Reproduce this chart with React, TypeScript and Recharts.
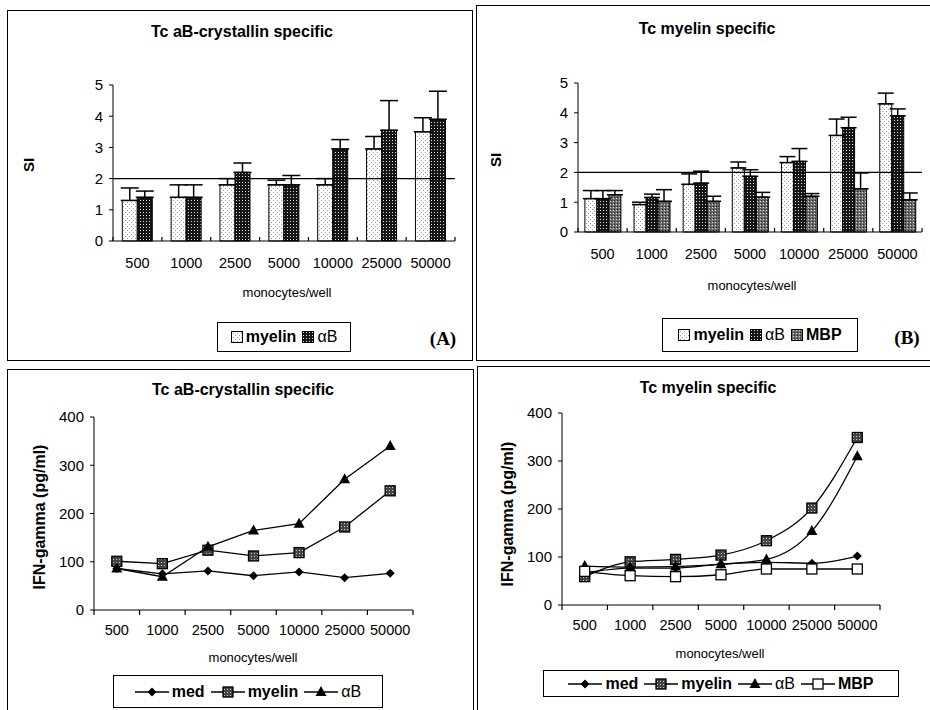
import React from "react";
import { BarChart, Bar, LineChart, Line, XAxis, YAxis, ReferenceLine, ErrorBar } from "recharts";

const doses = ["500", "1000", "2500", "5000", "10000", "25000", "50000"];
const siTicks = [0, 1, 2, 3, 4, 5];
const ifnTicks = [0, 100, 200, 300, 400];

// (A) Tc aB-crystallin specific, SI
const aMyelin = [1.3, 1.4, 1.8, 1.8, 1.8, 2.95, 3.5];
const aMyelinErr = [0.4, 0.4, 0.2, 0.15, 0.2, 0.4, 0.45];
const aAb = [1.4, 1.4, 2.2, 1.8, 2.95, 3.55, 3.9];
const aAbErr = [0.2, 0.4, 0.3, 0.3, 0.3, 0.95, 0.9];

// (B) Tc myelin specific, SI
const bMyelin = [1.12, 0.92, 1.6, 2.15, 2.33, 3.24, 4.3];
const bMyelinErr = [0.27, 0.08, 0.35, 0.2, 0.2, 0.55, 0.36];
const bAb = [1.12, 1.16, 1.64, 1.87, 2.37, 3.5, 3.9];
const bAbErr = [0.27, 0.11, 0.4, 0.22, 0.43, 0.35, 0.23];
const bMbp = [1.25, 1.03, 1.03, 1.17, 1.2, 1.45, 1.08];
const bMbpErr = [0.14, 0.39, 0.17, 0.16, 0.09, 0.53, 0.23];

// (C) Tc aB-crystallin specific, IFN-gamma
const cMed = [86, 75, 81, 71, 79, 67, 76];
const cMyelin = [101, 96, 124, 112, 119, 172, 247];
const cAb = [86, 69, 131, 165, 179, 271, 340];

// (D) Tc myelin specific, IFN-gamma
const dMed = [67, 77, 77, 85, 89, 87, 102];
const dMyelin = [59, 90, 95, 104, 134, 202, 349];
const dAb = [81, 79, 80, 85, 95, 154, 310];
const dMbp = [70, 61, 59, 63, 75, 75, 75];

const dataA = doses.map((dose, i) => ({
  dose,
  myelin: aMyelin[i],
  myelinErr: [0, aMyelinErr[i]],
  ab: aAb[i],
  abErr: [0, aAbErr[i]],
}));
const dataB = doses.map((dose, i) => ({
  dose,
  myelin: bMyelin[i],
  myelinErr: [0, bMyelinErr[i]],
  ab: bAb[i],
  abErr: [0, bAbErr[i]],
  mbp: bMbp[i],
  mbpErr: [0, bMbpErr[i]],
}));
const dataC = doses.map((dose, i) => ({ dose, med: cMed[i], myelin: cMyelin[i], ab: cAb[i] }));
const dataD = doses.map((dose, i) => ({ dose, med: dMed[i], myelin: dMyelin[i], ab: dAb[i], mbp: dMbp[i] }));

const SANS = "'Liberation Sans', Arial, sans-serif";

// x tick: label at band centre + little mark on the band edges
function DoseTick(props: any) {
  const { x, y, payload, index, half, up, dy } = props;
  const t0 = up ? y - 4 : y;
  const t1 = up ? y : y + 5;
  return (
    <g>
      <line x1={x - half} x2={x - half} y1={t0} y2={t1} stroke="#000" strokeWidth={1.2} />
      {index === doses.length - 1 && (
        <line x1={x + half} x2={x + half} y1={t0} y2={t1} stroke="#000" strokeWidth={1.2} />
      )}
      <text x={x} y={y + dy} textAnchor="middle" fontSize={14.5} fontFamily={SANS} fill="#000">
        {payload.value}
      </text>
    </g>
  );
}

const Diamond = (p: any) => (
  <polygon
    key={p.index}
    points={`${p.cx},${p.cy - 4.5} ${p.cx + 4.5},${p.cy} ${p.cx},${p.cy + 4.5} ${p.cx - 4.5},${p.cy}`}
    fill="#000"
  />
);
const PatSquare = (p: any) => (
  <rect key={p.index} x={p.cx - 5} y={p.cy - 5} width={10} height={10} fill="url(#pSq)" stroke="#000" strokeWidth={1.3} />
);
const Triangle = (p: any) => (
  <polygon key={p.index} points={`${p.cx},${p.cy - 6} ${p.cx + 5.5},${p.cy + 4} ${p.cx - 5.5},${p.cy + 4}`} fill="#000" />
);
const OpenSquare = (p: any) => (
  <rect key={p.index} x={p.cx - 5} y={p.cy - 5} width={10} height={10} fill="#fff" stroke="#000" strokeWidth={1.3} />
);

function Txt({ x, y, children, size = 14, bold = false, rotate = false, serif = false }: any) {
  return (
    <div
      style={{
        position: "absolute",
        left: x,
        top: y,
        transform: `translate(-50%, -50%)${rotate ? " rotate(-90deg)" : ""}`,
        whiteSpace: "nowrap",
        fontSize: size,
        fontWeight: bold ? 700 : 400,
        fontFamily: serif ? "'Liberation Serif', serif" : SANS,
        lineHeight: 1,
      }}
    >
      {children}
    </div>
  );
}

function Box({ x, y, w, h }: any) {
  return (
    <div
      style={{ position: "absolute", left: x, top: y, width: w, height: h, border: "1.5px solid #000", boxSizing: "border-box" }}
    />
  );
}

function Swatch({ fill }: { fill: string }) {
  return (
    <svg width={12} height={12} style={{ marginRight: 3 }}>
      <rect x={0.5} y={0.5} width={11} height={11} fill={fill} stroke="#000" />
    </svg>
  );
}

function LineKey({ marker }: { marker: any }) {
  return (
    <svg width={34} height={14} style={{ marginRight: 3 }}>
      <line x1={0} x2={34} y1={7} y2={7} stroke="#000" strokeWidth={1.3} />
      {marker({ cx: 17, cy: 7, index: 0 })}
    </svg>
  );
}

function Legend({ x, y, w, h, children }: any) {
  return (
    <div
      style={{
        position: "absolute",
        left: x,
        top: y,
        width: w,
        height: h,
        border: "1.5px solid #000",
        boxSizing: "border-box",
        display: "flex",
        alignItems: "center",
        justifyContent: "center",
        gap: 6,
        fontFamily: SANS,
        fontSize: 16,
      }}
    >
      {children}
    </div>
  );
}

const item = { display: "flex", alignItems: "center" } as const;

export default function App() {
  const axisTick = { fill: "#000", fontSize: 15, fontFamily: SANS };
  return (
    <div style={{ position: "absolute", left: 0, top: 0, width: 930, height: 710, background: "#fff", overflow: "hidden" }}>
      <svg width={0} height={0} style={{ position: "absolute" }}>
        <defs>
          <pattern id="pMy" width={4} height={4} patternUnits="userSpaceOnUse">
            <rect width={4} height={4} fill="#fff" />
            <rect x={0} y={0} width={1} height={1} fill="#999" />
            <rect x={2} y={2} width={1} height={1} fill="#999" />
          </pattern>
          <pattern id="pAb" width={3} height={3} patternUnits="userSpaceOnUse">
            <rect width={3} height={3} fill="#151515" />
            <rect x={1} y={1} width={1} height={1} fill="#ddd" />
          </pattern>
          <pattern id="pMbp" width={3} height={3} patternUnits="userSpaceOnUse">
            <rect width={3} height={3} fill="#6a6a6a" />
            <rect x={0} y={0} width={1} height={1} fill="#222" />
            <rect x={2} y={1} width={1} height={1} fill="#ddd" />
          </pattern>
          <pattern id="pSq" width={3} height={3} patternUnits="userSpaceOnUse">
            <rect width={3} height={3} fill="#444" />
            <rect x={1} y={1} width={1} height={1} fill="#ccc" />
          </pattern>
        </defs>
      </svg>

      {/* panel frames */}
      <Box x={7} y={10} w={466} h={351} />
      <Box x={476} y={5} w={460} h={356} />
      <Box x={7} y={369} w={467} h={350} />
      <Box x={477} y={366} w={460} h={350} />

      {/* (A) */}
      <div style={{ position: "absolute", left: 7, top: 10 }}>
        <BarChart width={465} height={350} data={dataA} margin={{ top: 75, right: 17, left: 0, bottom: 89 }} barCategoryGap="19%" barGap={0}>
          <XAxis dataKey="dose" height={30} stroke="#000" tickLine={false} tickSize={0} tickMargin={0} interval={0}
            tick={<DoseTick half={24.4} up dy={27} />} />
          <YAxis width={106} domain={[0, 5]} ticks={siTicks} tickSize={4} tickMargin={6} stroke="#000" tick={axisTick} />
          <ReferenceLine y={2} stroke="#000" strokeWidth={1.3} />
          <Bar dataKey="myelin" fill="url(#pMy)" stroke="#000" strokeWidth={1} isAnimationActive={false}>
            <ErrorBar dataKey="myelinErr" direction="y" width={9} stroke="#000" strokeWidth={1.5} />
          </Bar>
          <Bar dataKey="ab" fill="url(#pAb)" stroke="#000" strokeWidth={1} isAnimationActive={false}>
            <ErrorBar dataKey="abErr" direction="y" width={9} stroke="#000" strokeWidth={1.5} />
          </Bar>
        </BarChart>
      </div>
      <Txt x={242} y={32} size={16} bold>Tc aB-crystallin specific</Txt>
      <Txt x={28} y={165} size={15} bold rotate>SI</Txt>
      <Txt x={287} y={292} size={13}>monocytes/well</Txt>
      <Legend x={217} y={322} w={134} h={30}>
        <span style={item}><Swatch fill="url(#pMy)" /><b>myelin</b></span>
        <span style={item}><Swatch fill="url(#pAb)" />αB</span>
      </Legend>
      <Txt x={443} y={338} size={19} bold serif>(A)</Txt>

      {/* (B) */}
      <div style={{ position: "absolute", left: 476, top: 5 }}>
        <BarChart width={454} height={355} data={dataB} margin={{ top: 78, right: 8, left: 0, bottom: 98 }} barCategoryGap="14%" barGap={0}>
          <XAxis dataKey="dose" height={30} stroke="#000" tickLine={false} tickSize={0} tickMargin={0} interval={0}
            tick={<DoseTick half={24.6} up dy={27} />} />
          <YAxis width={102} domain={[0, 5]} ticks={siTicks} tickSize={4} tickMargin={6} stroke="#000" tick={axisTick} />
          <ReferenceLine y={2} stroke="#000" strokeWidth={1.3} />
          <Bar dataKey="myelin" fill="url(#pMy)" stroke="#000" strokeWidth={1} isAnimationActive={false}>
            <ErrorBar dataKey="myelinErr" direction="y" width={8} stroke="#000" strokeWidth={1.5} />
          </Bar>
          <Bar dataKey="ab" fill="url(#pAb)" stroke="#000" strokeWidth={1} isAnimationActive={false}>
            <ErrorBar dataKey="abErr" direction="y" width={8} stroke="#000" strokeWidth={1.5} />
          </Bar>
          <Bar dataKey="mbp" fill="url(#pMbp)" stroke="#000" strokeWidth={1} isAnimationActive={false}>
            <ErrorBar dataKey="mbpErr" direction="y" width={8} stroke="#000" strokeWidth={1.5} />
          </Bar>
        </BarChart>
      </div>
      <Txt x={707} y={29} size={16} bold>Tc myelin specific</Txt>
      <Txt x={495} y={160} size={15} bold rotate>SI</Txt>
      <Txt x={752} y={285} size={13}>monocytes/well</Txt>
      <Legend x={662} y={318} w={196} h={34}>
        <span style={item}><Swatch fill="url(#pMy)" /><b>myelin</b></span>
        <span style={item}><Swatch fill="url(#pAb)" />αB</span>
        <span style={item}><Swatch fill="url(#pMbp)" /><b>MBP</b></span>
      </Legend>
      <Txt x={907} y={337} size={19} bold serif>(B)</Txt>

      {/* (C) */}
      <div style={{ position: "absolute", left: 7, top: 369 }}>
        <LineChart width={466} height={341} data={dataC} margin={{ top: 48, right: 60, left: 0, bottom: 70 }}>
          <XAxis dataKey="dose" height={30} stroke="#000" tickLine={false} tickSize={0} tickMargin={0} interval={0}
            padding={{ left: 22.8, right: 22.8 }} tick={<DoseTick half={22.8} dy={25} />} />
          <YAxis width={87} domain={[0, 400]} ticks={ifnTicks} tickSize={4} tickMargin={6} stroke="#000" tick={axisTick} />
          <Line dataKey="med" stroke="#000" strokeWidth={1.3} dot={Diamond} activeDot={false} isAnimationActive={false} />
          <Line dataKey="myelin" stroke="#000" strokeWidth={1.3} dot={PatSquare} activeDot={false} isAnimationActive={false} />
          <Line dataKey="ab" stroke="#000" strokeWidth={1.3} dot={Triangle} activeDot={false} isAnimationActive={false} />
        </LineChart>
      </div>
      <Txt x={243} y={390} size={16} bold>Tc aB-crystallin specific</Txt>
      <Txt x={40} y={517} size={16} bold rotate>IFN-gamma (pg/ml)</Txt>
      <Txt x={253} y={657} size={13}>monocytes/well</Txt>
      <Legend x={113} y={675} w={270} h={33}>
        <span style={item}><LineKey marker={Diamond} /><b>med</b></span>
        <span style={item}><LineKey marker={PatSquare} /><b>myelin</b></span>
        <span style={item}><LineKey marker={Triangle} />αB</span>
      </Legend>

      {/* (D) */}
      <div style={{ position: "absolute", left: 477, top: 366 }}>
        <LineChart width={453} height={344} data={dataD} margin={{ top: 47, right: 50, left: 0, bottom: 75 }}>
          <XAxis dataKey="dose" height={30} stroke="#000" tickLine={false} tickSize={0} tickMargin={0} interval={0}
            padding={{ left: 22.7, right: 22.7 }} tick={<DoseTick half={22.7} dy={25} />} />
          <YAxis width={85} domain={[0, 400]} ticks={ifnTicks} tickSize={4} tickMargin={6} stroke="#000" tick={axisTick} />
          <Line type="monotone" dataKey="med" stroke="#000" strokeWidth={1.3} dot={Diamond} activeDot={false} isAnimationActive={false} />
          <Line type="monotone" dataKey="myelin" stroke="#000" strokeWidth={1.3} dot={PatSquare} activeDot={false} isAnimationActive={false} />
          <Line type="monotone" dataKey="ab" stroke="#000" strokeWidth={1.3} dot={Triangle} activeDot={false} isAnimationActive={false} />
          <Line type="monotone" dataKey="mbp" stroke="#000" strokeWidth={1.3} dot={OpenSquare} activeDot={false} isAnimationActive={false} />
        </LineChart>
      </div>
      <Txt x={708} y={388} size={16} bold>Tc myelin specific</Txt>
      <Txt x={508} y={514} size={16} bold rotate>IFN-gamma (pg/ml)</Txt>
      <Txt x={720} y={653} size={13}>monocytes/well</Txt>
      <Legend x={543} y={670} w={356} h={27}>
        <span style={item}><LineKey marker={Diamond} /><b>med</b></span>
        <span style={item}><LineKey marker={PatSquare} /><b>myelin</b></span>
        <span style={item}><LineKey marker={Triangle} />αB</span>
        <span style={item}><LineKey marker={OpenSquare} /><b>MBP</b></span>
      </Legend>
    </div>
  );
}
